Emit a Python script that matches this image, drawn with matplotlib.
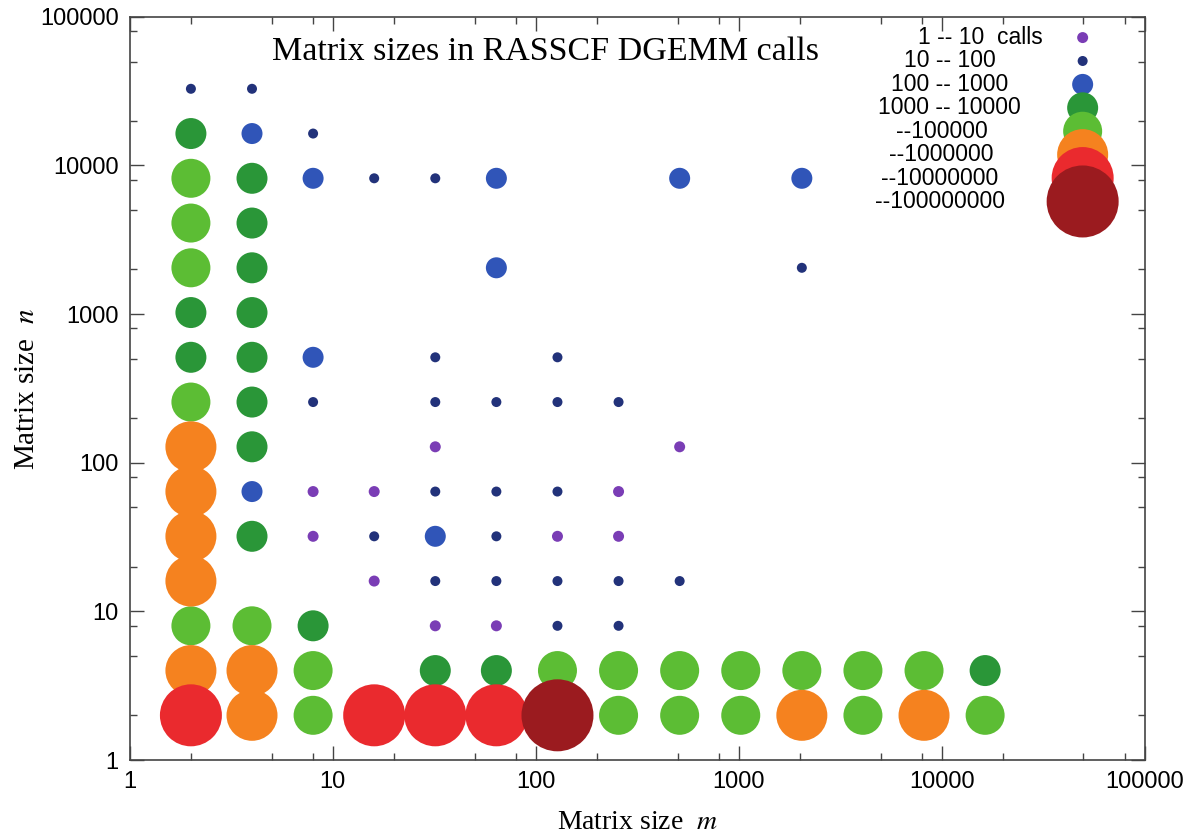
import matplotlib
matplotlib.use("Agg")
import matplotlib.pyplot as plt
import numpy as np
from matplotlib.ticker import FixedLocator, NullFormatter

plt.rcParams["mathtext.fontset"] = "stix"

# call-count classes (legend order)
class_labels = ["1 -- 10  calls", "10 -- 100", "100 -- 1000", "1000 -- 10000",
                "--100000", "--1000000", "--10000000", "--100000000"]
class_colors = ["#7a3db5", "#22327a", "#3055b8", "#2a9638",
                "#5cbd34", "#f5821f", "#ea2a2e", "#9b1b1f"]
class_diam_px = [11, 10, 21, 31, 39, 51, 62, 72]

# (m, n, class) of every DGEMM shape
m_vals = [2] * 15 + [4] * 14 + [8] * 9 + [16] * 5 + [32] * 10 + [64] * 9 \
    + [128] * 8 + [256] * 7 + [512] * 5 + [1024] * 2 + [2048] * 4 \
    + [4096] * 2 + [8192] * 2 + [16384] * 2
n_vals = [32768, 16384, 8192, 4096, 2048, 1024, 512, 256, 128, 64, 32, 16, 8, 4, 2,
          32768, 16384, 8192, 4096, 2048, 1024, 512, 256, 128, 64, 32, 8, 4, 2,
          16384, 8192, 512, 256, 64, 32, 8, 4, 2,
          8192, 64, 32, 16, 2,
          8192, 512, 256, 128, 64, 32, 16, 8, 4, 2,
          8192, 2048, 256, 64, 32, 16, 8, 4, 2,
          512, 256, 64, 32, 16, 8, 4, 2,
          256, 64, 32, 16, 8, 4, 2,
          8192, 128, 16, 4, 2,
          4, 2,
          8192, 2048, 4, 2,
          4, 2,
          4, 2,
          4, 2]
cls_vals = [1, 3, 4, 4, 4, 3, 3, 4, 5, 5, 5, 5, 4, 5, 6,
            1, 2, 3, 3, 3, 3, 3, 3, 3, 2, 3, 4, 5, 5,
            1, 2, 2, 1, 0, 0, 3, 4, 4,
            1, 0, 1, 0, 6,
            1, 1, 1, 0, 1, 2, 1, 0, 3, 6,
            2, 2, 1, 1, 1, 1, 0, 3, 6,
            1, 1, 1, 0, 1, 1, 4, 7,
            1, 0, 0, 1, 1, 4, 4,
            2, 0, 1, 4, 4,
            4, 4,
            2, 1, 4, 5,
            4, 4,
            4, 5,
            3, 4]

m_vals = np.array(m_vals)
n_vals = np.array(n_vals)
cls_vals = np.array(cls_vals)

dpi = 100
fig = plt.figure(figsize=(11.91, 8.38), dpi=dpi)
ax = fig.add_axes([0.109, 0.093, 0.852, 0.887])


def area(d_px):
    return (d_px * 72.0 / dpi) ** 2


for c in range(len(class_labels)):
    sel = cls_vals == c
    ax.scatter(m_vals[sel], n_vals[sel], s=area(class_diam_px[c]),
               color=class_colors[c], edgecolors="none", zorder=2 + c)

ax.set_xscale("log")
ax.set_yscale("log")
ax.set_xlim(1, 1e5)
ax.set_ylim(1, 1e5)

decades = [1, 10, 100, 1000, 10000, 100000]
minors = [d * k for d in decades[:-1] for k in (2, 5, 8)]
for axis in (ax.xaxis, ax.yaxis):
    axis.set_major_locator(FixedLocator(decades))
    axis.set_minor_locator(FixedLocator(minors))
    axis.set_minor_formatter(NullFormatter())
ax.set_xticklabels([str(d) for d in decades])
ax.set_yticklabels([str(d) for d in decades])

ax.tick_params(which="both", direction="in", top=True, right=True,
               color="#444444", width=1.0)
ax.tick_params(which="major", length=10, labelsize=17, pad=8)
ax.tick_params(which="minor", length=5)
for lab in ax.get_xticklabels() + ax.get_yticklabels():
    lab.set_fontfamily("Liberation Sans")
for sp in ax.spines.values():
    sp.set_color("#444444")
    sp.set_linewidth(1.2)

ax.set_xlabel("Matrix size  $m$", family="Liberation Serif", fontsize=20, labelpad=12)
ax.set_ylabel("Matrix size  $n$", family="Liberation Serif", fontsize=21, labelpad=0)

ax.text(0.41, 0.953, "Matrix sizes in RASSCF DGEMM calls", transform=ax.transAxes,
        ha="center", va="center", family="Liberation Serif", fontsize=24.5, zorder=20)

# key
label_x = [0.838, 0.808, 0.808, 0.808, 0.800, 0.800, 0.798, 0.798]
for i, lab in enumerate(class_labels):
    y = 0.972 - i * 0.0315
    ax.text(label_x[i], y, lab, transform=ax.transAxes, ha="center", va="center",
            family="Liberation Sans", fontsize=16.5, zorder=20)
    ax.scatter([0.939], [y], s=area(class_diam_px[i]), color=class_colors[i],
               edgecolors="none", transform=ax.transAxes, zorder=20 + i,
               clip_on=False)

fig.savefig("out.png", dpi=dpi)
